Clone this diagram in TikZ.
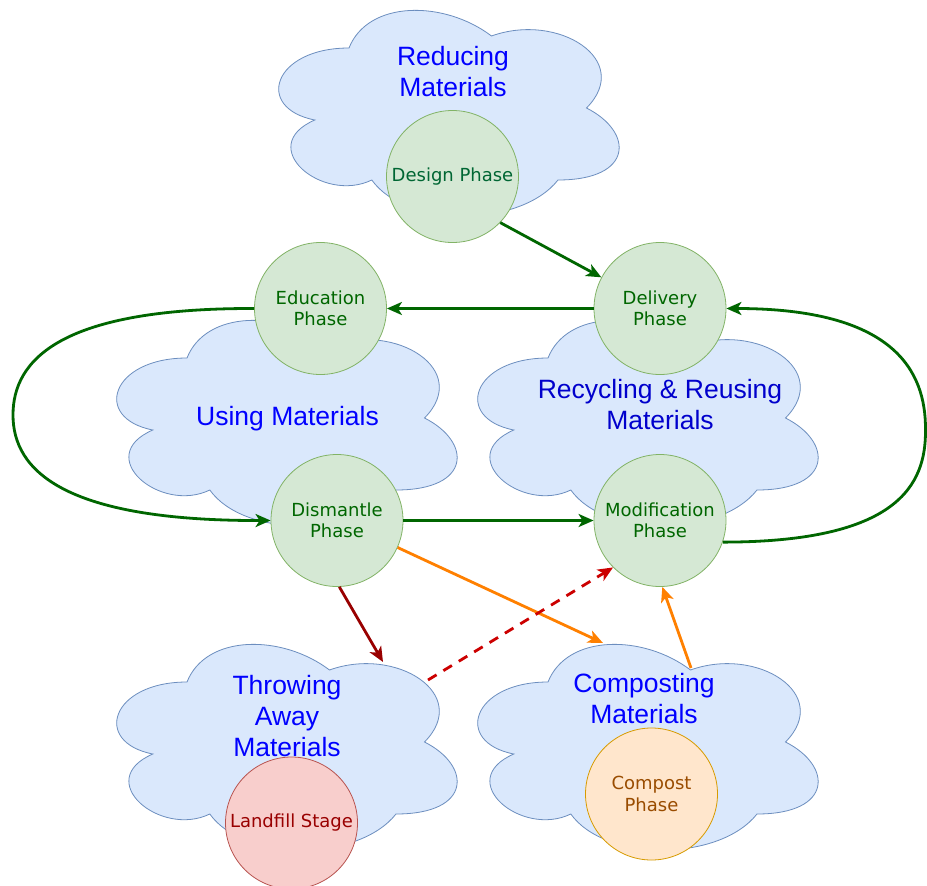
\documentclass[tikz,border=0pt]{standalone}
\usepackage{fontspec}
\setmainfont{Liberation Sans}
\newfontfamily\circfont{DejaVu Sans}
\usetikzlibrary{arrows.meta}
\definecolor{cloudfill}{HTML}{DAE8FC}
\definecolor{cloudline}{HTML}{6C8EBF}
\definecolor{cloudblue}{HTML}{0000FF}
\definecolor{cloudblueB}{HTML}{0000CC}
\definecolor{gfill}{HTML}{D5E8D4}
\definecolor{gline}{HTML}{82B366}
\definecolor{gtext}{HTML}{006600}
\definecolor{gtextB}{HTML}{006633}
\definecolor{rfill}{HTML}{F8CECC}
\definecolor{rline}{HTML}{B85450}
\definecolor{rtext}{HTML}{990000}
\definecolor{ofill}{HTML}{FFE6CC}
\definecolor{oline}{HTML}{D79B00}
\definecolor{otext}{HTML}{994C00}
\definecolor{garrow}{HTML}{006600}
\definecolor{darkred}{HTML}{990000}
\definecolor{dashred}{HTML}{CC0000}
\definecolor{orangearrow}{HTML}{FF8000}
\newcommand{\drawmycloud}[2]{%
  \begin{scope}[shift={(#1,-#2)},xscale=380,yscale=-240]
    \path[cloudsty] (0.25,0.25) .. controls (0.05,0.25) and (0,0.5) .. (0.16,0.55)
      .. controls (0,0.66) and (0.18,0.9) .. (0.31,0.8)
      .. controls (0.4,1) and (0.7,1) .. (0.8,0.8)
      .. controls (1,0.8) and (1,0.6) .. (0.875,0.5)
      .. controls (1,0.3) and (0.8,0.1) .. (0.625,0.2)
      .. controls (0.5,0.05) and (0.3,0.05) .. (0.25,0.25) -- cycle;
  \end{scope}}
\begin{document}
\begin{tikzpicture}[x=1pt,y=1pt,
  cloudsty/.style={fill=cloudfill, draw=cloudline, line width=0.8pt},
  cloudtxt/.style={text=cloudblue, font=\fontsize{26.5}{31}\selectfont, align=center, inner sep=0pt, anchor=base},
  phase/.style={circle, minimum size=132pt, inner sep=0pt, line width=0.8pt, align=center,
    font=\circfont\fontsize{18}{21.5}\selectfont},
  greenph/.style={phase, fill=gfill, draw=gline, text=gtext},
  redph/.style={phase, fill=rfill, draw=rline, text=rtext},
  orangeph/.style={phase, fill=ofill, draw=oline, text=otext},
  arr/.style={line width=2.8pt, -{Stealth[length=15pt,width=13pt,inset=4pt]}},
  garr/.style={arr, draw=garrow},
  rarr/.style={arr, draw=darkred},
  oarr/.style={arr, draw=orangearrow},
  dasharr/.style={arr, draw=dashred, dash pattern=on 10pt off 8pt}
]
\useasboundingbox (0,0) rectangle (927,-886);
\fill[white] (0,0) rectangle (927,-886);

% clouds
\drawmycloud{254}{-12}
\drawmycloud{92}{298}
\drawmycloud{453}{298}
\drawmycloud{92}{622}
\drawmycloud{453}{622}

% cloud labels (base = baseline of last line)
\node[cloudtxt] (reducing) at (453,-96) {Reducing\\Materials};
\node[cloudtxt] (using) at (287.5,-425) {Using Materials};
\node[cloudtxt, text=cloudblueB] (recycling) at (660,-429) {Recycling \& Reusing\\Materials};
\node[cloudtxt] (throwing) at (287,-756) {Throwing\\Away\\Materials};
\node[cloudtxt] (composting) at (644,-723) {Composting\\Materials};

% phase circles
\node[greenph, text=gtextB] (design) at (452.5,-176.5) {Design Phase};
\node[greenph] (education) at (320.5,-308.5) {Education\\Phase};
\node[greenph] (delivery) at (660,-308.5) {Delivery\\Phase};
\node[greenph] (dismantle) at (337,-520.5) {Dismantle\\Phase};
\node[greenph] (modification) at (660,-520.5) {Modification\\Phase};
\node[redph] (landfill) at (291.5,-823) {Landfill Stage};
\node[orangeph] (compost) at (651.5,-794) {Compost\\Phase};

% free ends on cloud outlines
\coordinate (thrIn) at (383,-662);
\coordinate (thrOut) at (428,-680);
\coordinate (cmpIn) at (603,-643);
\coordinate (cmpOut) at (691,-668);

% connectors
\draw[garr] (design.-44) -- (delivery.152);
\draw[garr] (delivery.west) -- (education.east);
\draw[garr] (education.west) .. controls (60,-308) and (13,-360) .. (13,-415)
  .. controls (13,-470) and (63,-521) .. (dismantle.west);
\draw[garr] (dismantle.east) -- (modification.west);
\draw[garr] (modification.-19) .. controls (898,-542) and (926,-485) .. (925.5,-430)
  .. controls (926,-370) and (893,-308.5) .. (delivery.east);
\draw[rarr] (dismantle.-88) -- (thrIn);
\draw[oarr] (dismantle.-24) -- (cmpIn);
\draw[dasharr] (thrOut) -- (modification.-135);
\draw[oarr] (cmpOut) -- (modification.-88);
\end{tikzpicture}
\end{document}
